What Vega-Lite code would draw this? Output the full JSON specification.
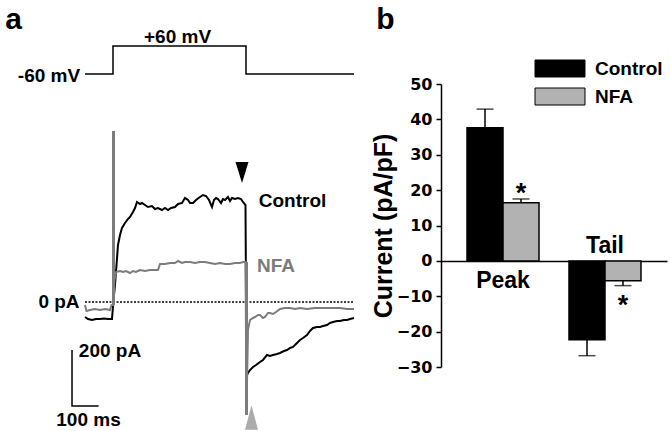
{
  "$schema": "https://vega.github.io/schema/vega-lite/v6.json",
  "width": 670,
  "height": 431,
  "padding": 0,
  "autosize": {"type": "none"},
  "background": "white",
  "config": {
    "view": {"stroke": null},
    "axis": {"domainColor": "black", "domainWidth": 1.5, "tickColor": "black", "tickWidth": 1.5, "tickSize": 5, "labelColor": "black", "titleColor": "black", "grid": false},
    "axisY": {"offset": -441, "labelFont": "DejaVu Sans", "labelFontWeight": "bold", "labelFontSize": 16, "labelPadding": 4, "titleFont": "Liberation Sans", "titleFontSize": 25, "titleFontWeight": "bold", "titlePadding": 0},
    "axisX": {"offset": -170, "labels": false, "ticks": false},
    "text": {"font": "Liberation Sans", "fontWeight": "bold"}
  },
  "datasets": {
    "traces": [
      {"trace": "Control", "ms": -105.3, "pA": -53.6}, {"trace": "Control", "ms": -94, "pA": -60.7}, {"trace": "Control", "ms": -78.9, "pA": -64.3}, {"trace": "Control", "ms": -63.9, "pA": -60.7}, {"trace": "Control", "ms": -48.9, "pA": -60.7}, {"trace": "Control", "ms": -33.8, "pA": -58.9}, {"trace": "Control", "ms": -18.8, "pA": -60.7}, {"trace": "Control", "ms": -3.8, "pA": -60.7},
      {"trace": "Control", "ms": 1.9, "pA": 7.1}, {"trace": "Control", "ms": 7.5, "pA": 60.7}, {"trace": "Control", "ms": 13.2, "pA": 132.1}, {"trace": "Control", "ms": 18.8, "pA": 203.6}, {"trace": "Control", "ms": 26.3, "pA": 239.3}, {"trace": "Control", "ms": 33.8, "pA": 264.3}, {"trace": "Control", "ms": 45.1, "pA": 282.1}, {"trace": "Control", "ms": 56.4, "pA": 296.4}, {"trace": "Control", "ms": 63.9, "pA": 303.6}, {"trace": "Control", "ms": 75.2, "pA": 321.4}, {"trace": "Control", "ms": 82.7, "pA": 335.7}, {"trace": "Control", "ms": 90.2, "pA": 357.1}, {"trace": "Control", "ms": 101.5, "pA": 350}, {"trace": "Control", "ms": 109, "pA": 353.6}, {"trace": "Control", "ms": 120.3, "pA": 346.4}, {"trace": "Control", "ms": 131.6, "pA": 339.3}, {"trace": "Control", "ms": 146.6, "pA": 342.9}, {"trace": "Control", "ms": 157.9, "pA": 332.1}, {"trace": "Control", "ms": 169.2, "pA": 335.7}, {"trace": "Control", "ms": 184.2, "pA": 328.6}, {"trace": "Control", "ms": 195.5, "pA": 335.7}, {"trace": "Control", "ms": 206.8, "pA": 328.6}, {"trace": "Control", "ms": 218, "pA": 335.7}, {"trace": "Control", "ms": 233.1, "pA": 339.3}, {"trace": "Control", "ms": 244.4, "pA": 350}, {"trace": "Control", "ms": 259.4, "pA": 353.6}, {"trace": "Control", "ms": 270.7, "pA": 371.4}, {"trace": "Control", "ms": 282, "pA": 364.3}, {"trace": "Control", "ms": 289.5, "pA": 353.6}, {"trace": "Control", "ms": 300.8, "pA": 353.6}, {"trace": "Control", "ms": 312, "pA": 364.3}, {"trace": "Control", "ms": 327.1, "pA": 375}, {"trace": "Control", "ms": 338.3, "pA": 382.1}, {"trace": "Control", "ms": 349.6, "pA": 378.6}, {"trace": "Control", "ms": 360.9, "pA": 364.3}, {"trace": "Control", "ms": 372.2, "pA": 339.3}, {"trace": "Control", "ms": 379.7, "pA": 364.3}, {"trace": "Control", "ms": 387.2, "pA": 371.4}, {"trace": "Control", "ms": 394.7, "pA": 367.9}, {"trace": "Control", "ms": 406, "pA": 353.6}, {"trace": "Control", "ms": 413.5, "pA": 367.9}, {"trace": "Control", "ms": 421.1, "pA": 364.3}, {"trace": "Control", "ms": 432.3, "pA": 375}, {"trace": "Control", "ms": 439.8, "pA": 360.7}, {"trace": "Control", "ms": 447.4, "pA": 371.4}, {"trace": "Control", "ms": 458.6, "pA": 367.9}, {"trace": "Control", "ms": 469.9, "pA": 371.4}, {"trace": "Control", "ms": 481.2, "pA": 367.9}, {"trace": "Control", "ms": 488.7, "pA": 357.1}, {"trace": "Control", "ms": 498.1, "pA": 346.4},
      {"trace": "Control", "ms": 501.9, "pA": -264.3}, {"trace": "Control", "ms": 507.5, "pA": -253.6}, {"trace": "Control", "ms": 515, "pA": -242.9}, {"trace": "Control", "ms": 526.3, "pA": -232.1}, {"trace": "Control", "ms": 537.6, "pA": -225}, {"trace": "Control", "ms": 552.6, "pA": -214.3}, {"trace": "Control", "ms": 563.9, "pA": -207.1}, {"trace": "Control", "ms": 578.9, "pA": -189.3}, {"trace": "Control", "ms": 590.2, "pA": -192.9}, {"trace": "Control", "ms": 601.5, "pA": -189.3}, {"trace": "Control", "ms": 616.5, "pA": -185.7}, {"trace": "Control", "ms": 627.8, "pA": -182.1}, {"trace": "Control", "ms": 642.8, "pA": -175}, {"trace": "Control", "ms": 654.1, "pA": -171.4}, {"trace": "Control", "ms": 665.4, "pA": -164.3}, {"trace": "Control", "ms": 676.7, "pA": -160.7}, {"trace": "Control", "ms": 691.7, "pA": -146.4}, {"trace": "Control", "ms": 703, "pA": -135.7}, {"trace": "Control", "ms": 714.3, "pA": -128.6}, {"trace": "Control", "ms": 729.3, "pA": -117.9}, {"trace": "Control", "ms": 740.6, "pA": -103.6}, {"trace": "Control", "ms": 751.9, "pA": -92.9}, {"trace": "Control", "ms": 766.9, "pA": -89.3}, {"trace": "Control", "ms": 778.2, "pA": -89.3}, {"trace": "Control", "ms": 789.5, "pA": -85.7}, {"trace": "Control", "ms": 804.5, "pA": -82.1}, {"trace": "Control", "ms": 815.7, "pA": -75}, {"trace": "Control", "ms": 827, "pA": -71.4}, {"trace": "Control", "ms": 842.1, "pA": -67.9}, {"trace": "Control", "ms": 853.3, "pA": -67.9}, {"trace": "Control", "ms": 868.4, "pA": -64.3}, {"trace": "Control", "ms": 879.6, "pA": -64.3}, {"trace": "Control", "ms": 890.9, "pA": -60.7}, {"trace": "Control", "ms": 906, "pA": -57.1},
      {"trace": "NFA", "ms": -105.3, "pA": -10.7}, {"trace": "NFA", "ms": -99.6, "pA": -32.1}, {"trace": "NFA", "ms": -86.5, "pA": -28.6}, {"trace": "NFA", "ms": -67.7, "pA": -25}, {"trace": "NFA", "ms": -48.9, "pA": -28.6}, {"trace": "NFA", "ms": -30.1, "pA": -25}, {"trace": "NFA", "ms": -11.3, "pA": -28.6}, {"trace": "NFA", "ms": -5.6, "pA": -10.7}, {"trace": "NFA", "ms": 0, "pA": -10.7},
      {"trace": "NFA", "ms": 5.6, "pA": 78.6}, {"trace": "NFA", "ms": 11.3, "pA": 107.1}, {"trace": "NFA", "ms": 26.3, "pA": 110.7}, {"trace": "NFA", "ms": 37.6, "pA": 107.1}, {"trace": "NFA", "ms": 48.9, "pA": 110.7}, {"trace": "NFA", "ms": 63.9, "pA": 103.6}, {"trace": "NFA", "ms": 75.2, "pA": 110.7}, {"trace": "NFA", "ms": 86.5, "pA": 107.1}, {"trace": "NFA", "ms": 101.5, "pA": 114.3}, {"trace": "NFA", "ms": 120.3, "pA": 110.7}, {"trace": "NFA", "ms": 139.1, "pA": 114.3}, {"trace": "NFA", "ms": 157.9, "pA": 114.3}, {"trace": "NFA", "ms": 169.2, "pA": 114.3}, {"trace": "NFA", "ms": 176.7, "pA": 135.7}, {"trace": "NFA", "ms": 195.5, "pA": 135.7}, {"trace": "NFA", "ms": 214.3, "pA": 139.3}, {"trace": "NFA", "ms": 233.1, "pA": 139.3}, {"trace": "NFA", "ms": 244.4, "pA": 146.4}, {"trace": "NFA", "ms": 259.4, "pA": 139.3}, {"trace": "NFA", "ms": 270.7, "pA": 142.9}, {"trace": "NFA", "ms": 289.5, "pA": 142.9}, {"trace": "NFA", "ms": 308.3, "pA": 139.3}, {"trace": "NFA", "ms": 327.1, "pA": 142.9}, {"trace": "NFA", "ms": 345.9, "pA": 142.9}, {"trace": "NFA", "ms": 364.7, "pA": 139.3}, {"trace": "NFA", "ms": 383.5, "pA": 135.7}, {"trace": "NFA", "ms": 402.3, "pA": 139.3}, {"trace": "NFA", "ms": 421.1, "pA": 135.7}, {"trace": "NFA", "ms": 439.8, "pA": 135.7}, {"trace": "NFA", "ms": 458.6, "pA": 139.3}, {"trace": "NFA", "ms": 477.4, "pA": 139.3}, {"trace": "NFA", "ms": 488.7, "pA": 142.9}, {"trace": "NFA", "ms": 498.1, "pA": 142.9},
      {"trace": "NFA", "ms": 501.9, "pA": -385.7}, {"trace": "NFA", "ms": 507.5, "pA": -100}, {"trace": "NFA", "ms": 515, "pA": -64.3}, {"trace": "NFA", "ms": 526.3, "pA": -57.1}, {"trace": "NFA", "ms": 533.8, "pA": -53.6}, {"trace": "NFA", "ms": 545.1, "pA": -46.4}, {"trace": "NFA", "ms": 552.6, "pA": -46.4}, {"trace": "NFA", "ms": 563.9, "pA": -57.1}, {"trace": "NFA", "ms": 571.4, "pA": -53.6}, {"trace": "NFA", "ms": 582.7, "pA": -39.3}, {"trace": "NFA", "ms": 590.2, "pA": -39.3}, {"trace": "NFA", "ms": 601.5, "pA": -42.9}, {"trace": "NFA", "ms": 612.8, "pA": -35.7}, {"trace": "NFA", "ms": 627.8, "pA": -25}, {"trace": "NFA", "ms": 646.6, "pA": -21.4}, {"trace": "NFA", "ms": 665.4, "pA": -21.4}, {"trace": "NFA", "ms": 684.2, "pA": -25}, {"trace": "NFA", "ms": 703, "pA": -21.4}, {"trace": "NFA", "ms": 729.3, "pA": -25}, {"trace": "NFA", "ms": 759.4, "pA": -21.4}, {"trace": "NFA", "ms": 789.5, "pA": -21.4}, {"trace": "NFA", "ms": 815.7, "pA": -21.4}, {"trace": "NFA", "ms": 853.3, "pA": -21.4}, {"trace": "NFA", "ms": 879.6, "pA": -25}, {"trace": "NFA", "ms": 906, "pA": -25}
    ],
    "spikes": [
      {"ms": 1.9, "top": 611, "bottom": -12},
      {"ms": 501.9, "top": 143, "bottom": -403.6}
    ],
    "voltage": [
      {"i": 0, "ms": -105.3, "mV": -60}, {"i": 1, "ms": 0, "mV": -60}, {"i": 2, "ms": 0, "mV": 60},
      {"i": 3, "ms": 500, "mV": 60}, {"i": 4, "ms": 500, "mV": -60}, {"i": 5, "ms": 906, "mV": -60}
    ],
    "voltageLabels": [
      {"text": "-60 mV", "ms": -240.6, "mV": -94.3},
      {"text": "+60 mV", "ms": 242.5, "mV": 74.1}
    ],
    "panelLetters": [
      {"text": "a", "ms": -374, "mV": 132.9},
      {"text": "b", "ms": 1024.4, "mV": 132.9}
    ],
    "zeroLevel": [{"start": -105.3, "end": 906, "pA": 0}],
    "scaleBar": [
      {"i": 0, "ms": -154.1, "pA": -171.4},
      {"i": 1, "ms": -154.1, "pA": -371.4},
      {"i": 2, "ms": -54.1, "pA": -371.4}
    ],
    "arrows": [
      {"trace": "Control", "ms": 485, "pA": 462.5},
      {"trace": "NFA", "ms": 520.7, "pA": -412.5}
    ],
    "traceLabels": [
      {"trace": "Control", "ms": 674.8, "pA": 339.3},
      {"trace": "NFA", "ms": 612.8, "pA": 108.2}
    ],
    "scaleLabels": [
      {"text": "0 pA", "ms": -203, "pA": -21.4},
      {"text": "200 pA", "ms": -11.3, "pA": -196.4},
      {"text": "100 ms", "ms": -92.1, "pA": -444.6}
    ],
    "bars": [
      {"measure": "Peak", "condition": "Control", "current": 37.6, "whisker": 42.9},
      {"measure": "Peak", "condition": "NFA", "current": 16.4, "whisker": 17.5},
      {"measure": "Tail", "condition": "Control", "current": -22.3, "whisker": -26.8},
      {"measure": "Tail", "condition": "NFA", "current": -5.6, "whisker": -7.0}
    ],
    "asterisks": [
      {"measure": "Peak", "condition": "NFA", "level": 16.6, "text": "*"},
      {"measure": "Tail", "condition": "NFA", "level": -14.9, "text": "*"}
    ],
    "groupLabels": [
      {"measure": "Peak", "level": -7.6},
      {"measure": "Tail", "level": 2.2}
    ]
  },
  "layer": [
    {
      "layer": [
        {
          "layer": [
            {
              "data": {"name": "voltage"},
              "mark": {"type": "line", "color": "black", "strokeWidth": 1.5},
              "encoding": {
                "x": {"field": "ms", "type": "quantitative", "scale": {"domain": [0, 500], "range": [113, 246], "nice": false, "zero": false}, "axis": null},
                "y": {"field": "mV", "type": "quantitative", "scale": {"domain": [-60, 60], "range": [74, 46], "nice": false, "zero": false}, "axis": null},
                "order": {"field": "i"}
              }
            },
            {
              "data": {"name": "voltageLabels"},
              "mark": {"type": "text", "fontSize": 19, "align": "center", "baseline": "alphabetic", "color": "black"},
              "encoding": {
                "x": {"field": "ms", "type": "quantitative"},
                "y": {"field": "mV", "type": "quantitative"},
                "text": {"field": "text"}
              }
            },
            {
              "data": {"name": "panelLetters"},
              "mark": {"type": "text", "fontSize": 30, "align": "center", "baseline": "alphabetic", "color": "black"},
              "encoding": {
                "x": {"field": "ms", "type": "quantitative"},
                "y": {"field": "mV", "type": "quantitative"},
                "text": {"field": "text"}
              }
            }
          ]
        },
        {
          "layer": [
            {
              "data": {"name": "zeroLevel"},
              "mark": {"type": "rule", "color": "black", "strokeWidth": 1.5, "strokeDash": [2, 1.5]},
              "encoding": {
                "x": {"field": "start", "type": "quantitative", "scale": {"domain": [0, 500], "range": [113, 246], "nice": false, "zero": false}, "axis": null},
                "x2": {"field": "end"},
                "y": {"field": "pA", "type": "quantitative", "scale": {"domain": [0, 200], "range": [302, 246], "nice": false, "zero": false}, "axis": null}
              }
            },
            {
              "data": {"name": "traces"},
              "mark": {"type": "line", "strokeWidth": 2},
              "encoding": {
                "x": {"field": "ms", "type": "quantitative"},
                "y": {"field": "pA", "type": "quantitative"},
                "color": {"field": "trace", "type": "nominal", "scale": {"domain": ["Control", "NFA"], "range": ["#000000", "#7c7c7c"]}, "legend": null}
              }
            },
            {
              "data": {"name": "spikes"},
              "mark": {"type": "rule", "color": "#7c7c7c", "strokeWidth": 3},
              "encoding": {
                "x": {"field": "ms", "type": "quantitative"},
                "y": {"field": "top", "type": "quantitative"},
                "y2": {"field": "bottom"}
              }
            },
            {
              "data": {"name": "scaleBar"},
              "mark": {"type": "line", "color": "black", "strokeWidth": 1.5},
              "encoding": {
                "x": {"field": "ms", "type": "quantitative"},
                "y": {"field": "pA", "type": "quantitative"},
                "order": {"field": "i"}
              }
            },
            {
              "data": {"name": "arrows"},
              "transform": [{"filter": "datum.trace == 'Control'"}],
              "mark": {"type": "point", "shape": "M-1,-1.6L1,-1.6L0,1.6Z", "size": 169, "filled": true, "opacity": 1, "color": "black"},
              "encoding": {
                "x": {"field": "ms", "type": "quantitative"},
                "y": {"field": "pA", "type": "quantitative"}
              }
            },
            {
              "data": {"name": "arrows"},
              "transform": [{"filter": "datum.trace == 'NFA'"}],
              "mark": {"type": "point", "shape": "M-1,1.9L1,1.9L0,-1.9Z", "size": 169, "filled": true, "opacity": 1, "color": "#ababab"},
              "encoding": {
                "x": {"field": "ms", "type": "quantitative"},
                "y": {"field": "pA", "type": "quantitative"}
              }
            },
            {
              "data": {"name": "traceLabels"},
              "mark": {"type": "text", "fontSize": 19, "align": "center", "baseline": "alphabetic"},
              "encoding": {
                "x": {"field": "ms", "type": "quantitative"},
                "y": {"field": "pA", "type": "quantitative"},
                "text": {"field": "trace"},
                "color": {"field": "trace", "type": "nominal", "legend": null}
              }
            },
            {
              "data": {"name": "scaleLabels"},
              "mark": {"type": "text", "fontSize": 19, "align": "center", "baseline": "alphabetic", "color": "black"},
              "encoding": {
                "x": {"field": "ms", "type": "quantitative"},
                "y": {"field": "pA", "type": "quantitative"},
                "text": {"field": "text"}
              }
            }
          ]
        }
      ],
      "resolve": {"scale": {"y": "independent"}, "axis": {"y": "independent"}}
    },
    {
      "layer": [
        {
          "data": {"name": "bars"},
          "mark": {"type": "bar", "stroke": "black", "strokeWidth": 1.5},
          "encoding": {
            "x": {"field": "measure", "type": "nominal", "scale": {"type": "band", "domain": ["Peak", "Tail"], "range": [441, 667], "paddingInner": 0.294, "paddingOuter": 0.255}, "axis": {"orient": "bottom", "title": null}},
            "xOffset": {"field": "condition", "type": "nominal", "scale": {"domain": ["Control", "NFA"], "paddingInner": 0, "paddingOuter": 0}},
            "y": {"field": "current", "type": "quantitative", "scale": {"domain": [-30, 50], "range": [367, 84], "nice": false}, "axis": {"orient": "left", "title": "Current (pA/pF)"}},
            "color": {"field": "condition", "type": "nominal", "scale": {"domain": ["Control", "NFA"], "range": ["#000000", "#b2b2b2"]},
              "legend": {"orient": "none", "legendX": 550.5, "legendY": 59, "title": null, "padding": 0, "symbolType": "M-2.94,-1H2.94V1H-2.94Z", "symbolSize": 289, "symbolStrokeColor": "black", "symbolStrokeWidth": 1, "symbolOpacity": 1, "labelFont": "Liberation Sans", "labelFontWeight": "bold", "labelFontSize": 19, "labelColor": "black", "labelOffset": 25.5, "rowPadding": 7}}
          }
        },
        {
          "data": {"name": "bars"},
          "mark": {"type": "rule", "color": "black", "strokeWidth": 1.5},
          "encoding": {
            "x": {"field": "measure", "type": "nominal"},
            "xOffset": {"field": "condition", "type": "nominal"},
            "y": {"field": "current", "type": "quantitative", "axis": {"orient": "left", "title": "Current (pA/pF)"}},
            "y2": {"field": "whisker"}
          }
        },
        {
          "data": {"name": "bars"},
          "mark": {"type": "tick", "orient": "horizontal", "color": "black", "size": 17, "thickness": 1.5},
          "encoding": {
            "x": {"field": "measure", "type": "nominal"},
            "xOffset": {"field": "condition", "type": "nominal"},
            "y": {"field": "whisker", "type": "quantitative", "axis": {"orient": "left", "title": "Current (pA/pF)"}}
          }
        },
        {
          "data": {"name": "asterisks"},
          "mark": {"type": "text", "fontSize": 27, "align": "center", "baseline": "alphabetic", "color": "black"},
          "encoding": {
            "x": {"field": "measure", "type": "nominal"},
            "xOffset": {"field": "condition", "type": "nominal"},
            "y": {"field": "level", "type": "quantitative", "axis": {"orient": "left", "title": "Current (pA/pF)"}},
            "text": {"field": "text"}
          }
        },
        {
          "data": {"name": "groupLabels"},
          "mark": {"type": "text", "fontSize": 23, "align": "center", "baseline": "alphabetic", "color": "black"},
          "encoding": {
            "x": {"field": "measure", "type": "nominal"},
            "y": {"field": "level", "type": "quantitative", "axis": {"orient": "left", "title": "Current (pA/pF)"}},
            "text": {"field": "measure"}
          }
        }
      ]
    }
  ],
  "resolve": {"scale": {"x": "independent", "y": "independent", "color": "independent"}, "axis": {"x": "independent", "y": "independent"}}
}
